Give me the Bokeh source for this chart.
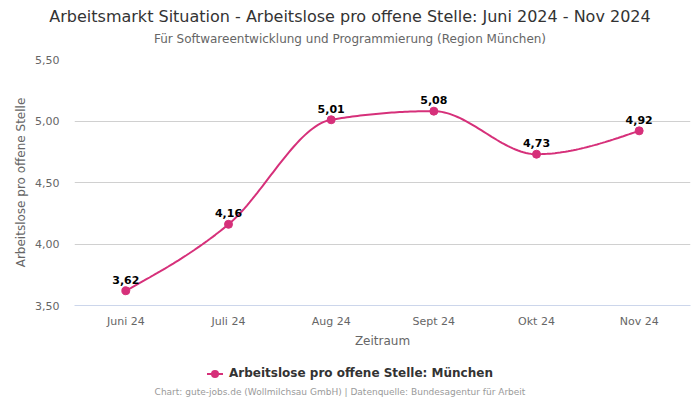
import numpy as np
from bokeh.plotting import figure
from bokeh.layouts import column
from bokeh.models import (Range1d, FixedTicker, CustomJSTickFormatter, ColumnDataSource,
                          LabelSet, Div)
from bokeh.core.properties import value
from bokeh.embed import file_html
from bokeh.resources import INLINE

categories = ["Juni 24", "Juli 24", "Aug 24", "Sept 24", "Okt 24", "Nov 24"]
values = [3.62, 4.16, 5.01, 5.08, 4.73, 4.92]
value_labels = ["3,62", "4,16", "5,01", "5,08", "4,73", "4,92"]
y_ticks = [3.5, 4.0, 4.5, 5.0, 5.5]

title_text = "Arbeitsmarkt Situation - Arbeitslose pro offene Stelle: Juni 2024 - Nov 2024"
subtitle_text = "Für Softwareentwicklung und Programmierung (Region München)"
legend_text = "Arbeitslose pro offene Stelle: München"
footer_text = "Chart: gute-jobs.de (Wollmilchsau GmbH) | Datenquelle: Bundesagentur für Arbeit"

COLOR = "#d6307a"
FONT = "DejaVu Sans"

W = 700
HEAD_H = 50       # header block height (title + subtitle)
FIG_H = 305       # figure block height
FOOT_H = 45       # legend + footer block height
FL, FW, FH = 74, 616, 246

# monotone cubic (d3 monotoneX) smoothing of the line through the data points
xs = np.arange(len(values), dtype=float)
ys = np.array(values, dtype=float)
s = np.diff(ys) / np.diff(xs)
t = np.zeros(len(ys))
for i in range(1, len(ys) - 1):
    h0, h1 = xs[i] - xs[i - 1], xs[i + 1] - xs[i]
    pp = (s[i - 1] * h1 + s[i] * h0) / (h0 + h1)
    t[i] = (np.sign(s[i - 1]) + np.sign(s[i])) * min(abs(s[i - 1]), abs(s[i]), 0.5 * abs(pp))
t[0] = (3 * s[0] - t[1]) / 2
t[-1] = (3 * s[-1] - t[-2]) / 2
cx, cy = [], []
u = np.linspace(0, 1, 40)
for i in range(len(ys) - 1):
    dx = (xs[i + 1] - xs[i]) / 3
    P0 = (xs[i], ys[i]); P1 = (xs[i] + dx, ys[i] + dx * t[i])
    P2 = (xs[i + 1] - dx, ys[i + 1] - dx * t[i + 1]); P3 = (xs[i + 1], ys[i + 1])
    bx = (1-u)**3*P0[0] + 3*(1-u)**2*u*P1[0] + 3*(1-u)*u**2*P2[0] + u**3*P3[0]
    by = (1-u)**3*P0[1] + 3*(1-u)**2*u*P1[1] + 3*(1-u)*u**2*P2[1] + u**3*P3[1]
    cx.extend(bx.tolist()); cy.extend(by.tolist())

top_border = 59 - HEAD_H
p = figure(frame_width=FW, frame_height=FH, output_backend="svg", toolbar_location=None,
           x_range=Range1d(-0.5, len(categories) - 0.5), y_range=Range1d(3.5, 5.5),
           min_border_left=FL, min_border_right=W - FL - FW, min_border_top=top_border,
           min_border_bottom=FIG_H - top_border - FH)
p.outline_line_color = None
p.background_fill_color = "white"
p.border_fill_color = "white"

p.xgrid.grid_line_color = None
p.ygrid.grid_line_color = "#d0d0d0"
p.ygrid.ticker = FixedTicker(ticks=y_ticks)

p.yaxis.ticker = FixedTicker(ticks=y_ticks)
p.yaxis.formatter = CustomJSTickFormatter(code="return tick.toFixed(2).replace('.', ',');")
p.yaxis.axis_line_color = None
p.yaxis.major_tick_line_color = None
p.yaxis.major_tick_out = 0
p.yaxis.major_tick_in = 0
p.yaxis.minor_tick_line_color = None
p.yaxis.major_label_text_font = FONT
p.yaxis.major_label_text_font_size = "11px"
p.yaxis.major_label_text_color = "#666666"
p.yaxis.major_label_standoff = 15
p.yaxis.axis_label = "Arbeitslose pro offene Stelle"
p.yaxis.axis_label_text_font = FONT
p.yaxis.axis_label_text_font_size = "12px"
p.yaxis.axis_label_text_font_style = "normal"
p.yaxis.axis_label_text_color = "#666666"
p.yaxis.axis_label_standoff = 4

p.xaxis.ticker = FixedTicker(ticks=list(range(len(categories))))
p.xaxis.major_label_overrides = {i: c for i, c in enumerate(categories)}
p.xaxis.axis_line_color = "#ccd6eb"
p.xaxis.major_tick_line_color = None
p.xaxis.major_tick_out = 0
p.xaxis.major_tick_in = 0
p.xaxis.minor_tick_line_color = None
p.xaxis.major_label_text_font = FONT
p.xaxis.major_label_text_font_size = "11px"
p.xaxis.major_label_text_color = "#666666"
p.xaxis.major_label_standoff = 9
p.xaxis.axis_label = "Zeitraum"
p.xaxis.axis_label_text_font = FONT
p.xaxis.axis_label_text_font_size = "12px"
p.xaxis.axis_label_text_font_style = "normal"
p.xaxis.axis_label_text_color = "#666666"
p.xaxis.axis_label_standoff = 3

p.line(cx, cy, line_color=COLOR, line_width=2)
src = ColumnDataSource(dict(x=list(range(len(values))), y=values, lab=value_labels))
p.scatter("x", "y", source=src, size=8, fill_color=COLOR, line_color=COLOR)
p.add_layout(LabelSet(x="x", y="y", text="lab", source=src, y_offset=7,
                      text_align="center", text_baseline="bottom",
                      text_font=value(FONT), text_font_size="11px",
                      text_font_style="bold", text_color="#000000"))

font_css = f"font-family:'{FONT}';"
head_html = (
    f"<div style=\"width:{W}px;text-align:center;{font_css}\">"
    f"<div style=\"height:34px;line-height:34px;font-size:16px;color:#333333;white-space:nowrap;\">{title_text}</div>"
    f"<div style=\"height:10px;line-height:10px;font-size:12px;color:#666666;white-space:nowrap;\">{subtitle_text}</div>"
    "</div>"
)
marker = (
    "<span style=\"display:inline-block;position:relative;width:16px;height:8px;"
    "vertical-align:middle;margin-right:6px;\">"
    f"<span style=\"position:absolute;left:0;top:3px;width:16px;height:2px;background:{COLOR};\"></span>"
    f"<span style=\"position:absolute;left:4px;top:0;width:8px;height:8px;border-radius:50%;background:{COLOR};\"></span>"
    "</span>"
)
foot_html = (
    f"<div style=\"width:{W}px;text-align:center;{font_css}\">"
    f"<div style=\"height:36px;line-height:36px;font-size:12px;font-weight:bold;color:#333333;white-space:nowrap;\">{marker}{legend_text}</div>"
    f"<div style=\"height:2px;line-height:2px;font-size:9px;color:#9a9a9a;white-space:nowrap;padding-right:20px;\">{footer_text}</div>"
    "</div>"
)
head = Div(text=head_html, width=W, height=HEAD_H, margin=0)
foot = Div(text=foot_html, width=W, height=FOOT_H, margin=0)

layout = column(head, p, foot, spacing=0, margin=0)

out = file_html(layout, INLINE)
open("out.html", "w").write(out)
